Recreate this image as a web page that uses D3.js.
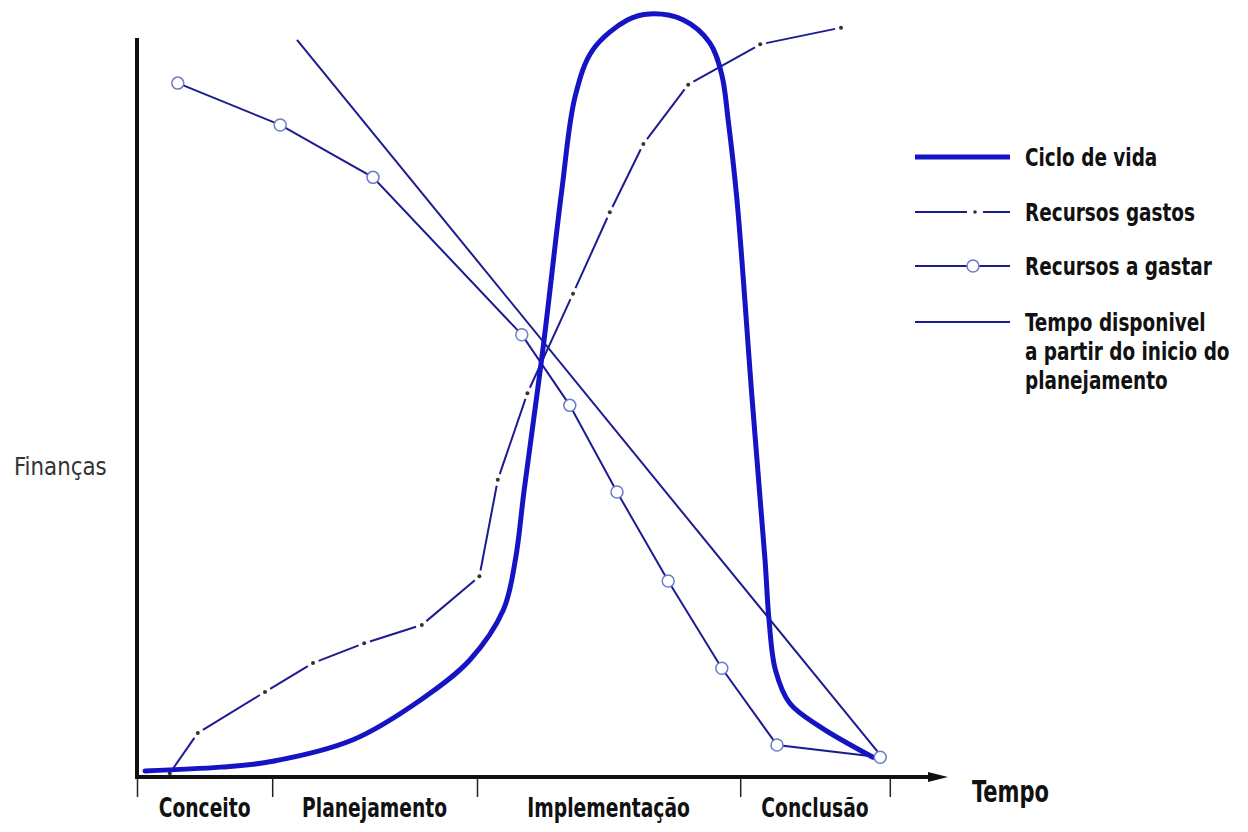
<!DOCTYPE html>
<html>
<head>
<meta charset="utf-8">
<script src="https://cdn.jsdelivr.net/npm/d3@7"></script>
<style>
  body { margin: 0; background: #fff; }
  svg text { font-family: "DejaVu Sans Condensed", "DejaVu Sans", sans-serif; font-stretch: condensed; fill: #111; }
</style>
</head>
<body>
<div id="chart"></div>
<script>
// phases along the time axis
var phaseNames = ["Conceito", "Planejamento", "Implementação", "Conclusão"];
var phaseBounds = [0, 16.9, 42.5, 75.4, 94.1];

// curves, [tempo, financas]
var cicloVida = [[1.0,0.8],[10.4,1.3],[16.6,2.0],[27.0,4.9],[35.4,10.1],[41.6,15.4],[45.8,22.0],[47.3,28.6],
  [48.4,37.8],[50.8,56.8],[53.1,77.2],[54.8,89.7],[57.0,95.7],[61.3,99.6],[64.1,100.4],[68.3,99.6],
  [71.6,96.6],[73.1,92.4],[73.9,86.4],[75.0,75.9],[76.9,49.6],[78.5,28.6],[79.0,20.7],[79.8,14.1],[81.6,9.7],
  [85.4,6.6],[92.0,2.6]];
var recursosGastos = [[4.1,0.5],[7.6,5.8],[16.0,11.2],[22.0,15.0],[28.4,17.6],[35.6,20.0],[42.8,26.4],[45.1,39.1],
  [48.8,50.5],[54.5,63.6],[59.1,74.3],[63.3,83.3],[68.9,91.1],[77.9,96.4],[88.0,98.6]];
var recursosAGastar = [[5.1,91.3],[17.9,85.8],[29.5,78.9],[48.1,58.2],[54.1,48.9],[60.0,37.5],[66.4,25.8],
  [73.1,14.3],[80.0,4.2],[92.9,2.6]];
var tempoDisponivel = [[20.0,97.0],[92.6,3.3]];

var legendNames = ["Ciclo de vida", "Recursos gastos", "Recursos a gastar", "Tempo disponivel"];

var width = 1248, height = 832;
var blue = "#1414c4", navy = "#1c1c90";

var svg = d3.select("#chart").append("svg")
  .attr("width", width).attr("height", height);

var x = d3.scaleLinear().domain([0, 100]).range([137, 937]);
var y = d3.scaleLinear().domain([0, 100]).range([777, 17]);

var line = d3.line().x(function(d){ return x(d[0]); }).y(function(d){ return y(d[1]); });
var smooth = d3.line().x(function(d){ return x(d[0]); }).y(function(d){ return y(d[1]); })
  .curve(d3.curveCatmullRom.alpha(0.5));

// narrow lettering like the scan
function label(g, tx, ty, str, size, sx, anchor, weight){
  return g.append("text")
    .attr("transform", "translate(" + tx + "," + ty + ") scale(" + sx + ",1)")
    .attr("text-anchor", anchor || "start")
    .style("font-size", size + "px")
    .style("font-weight", weight || "bold")
    .text(str);
}

// axes
svg.append("line").attr("x1", x(0)).attr("x2", x(0)).attr("y1", 38).attr("y2", y(0) + 2)
  .attr("stroke", "#111").attr("stroke-width", 4);
svg.append("line").attr("x1", x(0) - 2).attr("x2", 932).attr("y1", y(0)).attr("y2", y(0))
  .attr("stroke", "#111").attr("stroke-width", 4);
svg.append("path").attr("d", "M928," + (y(0) - 5) + "L948," + y(0) + "L928," + (y(0) + 5) + "Z")
  .attr("fill", "#111");

var xAxis = svg.append("g")
  .attr("transform", "translate(0," + (y(0) + 2) + ")")
  .call(d3.axisBottom(x).tickValues(phaseBounds).tickSize(18).tickFormat(""));
xAxis.select(".domain").remove();
xAxis.selectAll(".tick line").attr("stroke", "#222").attr("stroke-width", 1.5);

phaseNames.forEach(function(d, i){
  label(svg, x((phaseBounds[i] + phaseBounds[i + 1]) / 2), 817, d, 26, 0.8, "middle");
});

label(svg, 972, 802, "Tempo", 30, 0.78, "start");
label(svg, 14, 475, "Finanças", 25, 0.95, "start", "normal").style("fill", "#333");

// tempo disponivel
svg.append("path").datum(tempoDisponivel).attr("d", line)
  .attr("fill", "none").attr("stroke", navy).attr("stroke-width", 2);

// recursos a gastar
svg.append("path").datum(recursosAGastar).attr("d", line)
  .attr("fill", "none").attr("stroke", navy).attr("stroke-width", 2);

// recursos gastos: dash between points, dot on each point
var segs = d3.pairs(recursosGastos);
svg.selectAll(".seg").data(segs).enter().append("line")
  .attr("class", "seg")
  .each(function(d){
    var x1 = x(d[0][0]), y1 = y(d[0][1]), x2 = x(d[1][0]), y2 = y(d[1][1]);
    var len = Math.hypot(x2 - x1, y2 - y1), g = 6;
    var ux = (x2 - x1) / len, uy = (y2 - y1) / len;
    d3.select(this).attr("x1", x1 + ux * g).attr("y1", y1 + uy * g)
      .attr("x2", x2 - ux * g).attr("y2", y2 - uy * g);
  })
  .attr("stroke", navy).attr("stroke-width", 2);
svg.selectAll(".gdot").data(recursosGastos).enter().append("circle")
  .attr("class", "gdot")
  .attr("cx", function(d){ return x(d[0]); }).attr("cy", function(d){ return y(d[1]); })
  .attr("r", 2).attr("fill", "#333");

// ciclo de vida
svg.append("path").datum(cicloVida).attr("d", smooth)
  .attr("fill", "none").attr("stroke", blue).attr("stroke-width", 5)
  .attr("stroke-linejoin", "round").attr("stroke-linecap", "round");

svg.selectAll(".cdot").data(recursosAGastar).enter().append("circle")
  .attr("class", "cdot")
  .attr("cx", function(d){ return x(d[0]); }).attr("cy", function(d){ return y(d[1]); })
  .attr("r", 6).attr("fill", "#fff").attr("stroke", "#6d7cc8").attr("stroke-width", 1.5);

// legend
var lg = svg.append("g").attr("transform", "translate(915,0)");
var rowsY = [157, 212, 266, 322];
lg.append("line").attr("x1", 0).attr("x2", 95).attr("y1", rowsY[0]).attr("y2", rowsY[0])
  .attr("stroke", blue).attr("stroke-width", 5);
lg.append("line").attr("x1", 0).attr("x2", 52).attr("y1", rowsY[1]).attr("y2", rowsY[1])
  .attr("stroke", navy).attr("stroke-width", 2);
lg.append("circle").attr("cx", 60).attr("cy", rowsY[1]).attr("r", 1.8).attr("fill", "#333");
lg.append("line").attr("x1", 68).attr("x2", 95).attr("y1", rowsY[1]).attr("y2", rowsY[1])
  .attr("stroke", navy).attr("stroke-width", 2);
lg.append("line").attr("x1", 0).attr("x2", 95).attr("y1", rowsY[2]).attr("y2", rowsY[2])
  .attr("stroke", navy).attr("stroke-width", 2);
lg.append("circle").attr("cx", 58).attr("cy", rowsY[2]).attr("r", 6)
  .attr("fill", "#fff").attr("stroke", "#6d7cc8").attr("stroke-width", 1.5);
lg.append("line").attr("x1", 0).attr("x2", 95).attr("y1", rowsY[3]).attr("y2", rowsY[3])
  .attr("stroke", navy).attr("stroke-width", 2);

legendNames.forEach(function(d, i){
  label(lg, 110, rowsY[i] + 9, d, 25, 0.82);
});
label(lg, 110, rowsY[3] + 38, "a partir do inicio do", 25, 0.82);
label(lg, 110, rowsY[3] + 67, "planejamento", 25, 0.82);
</script>
</body>
</html>
